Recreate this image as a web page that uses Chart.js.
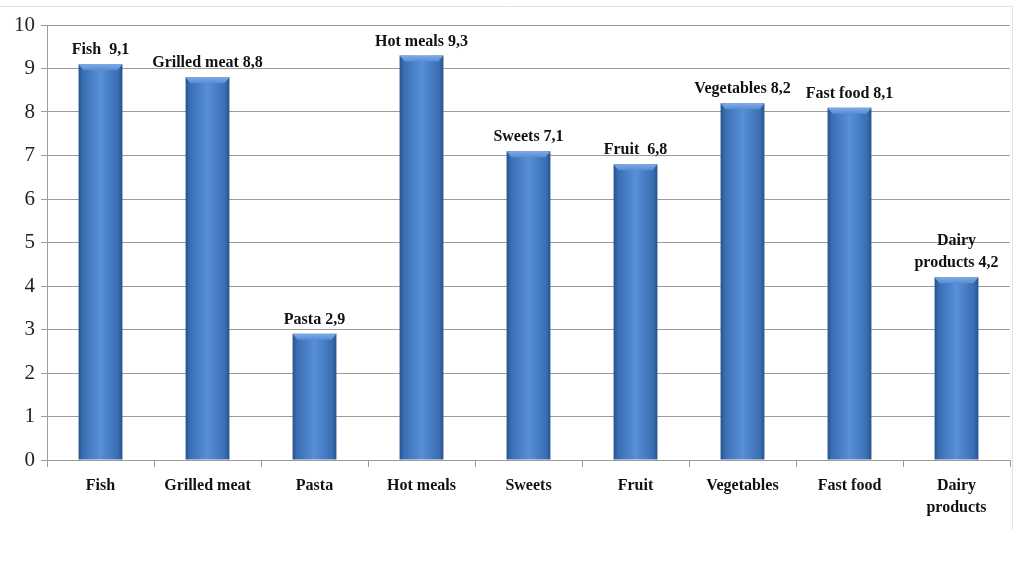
<!DOCTYPE html>
<html>
<head>
<meta charset="utf-8">
<script src="https://cdn.jsdelivr.net/npm/chart.js@4.4.1/dist/chart.umd.min.js"></script>
<style>
  html, body { margin: 0; padding: 0; background: #fff; }
  #wrap { width: 1019px; height: 562px; position: relative; }
</style>
</head>
<body>
<div id="wrap"><canvas id="grafico"></canvas></div>
<script>
// food categories and their scores
const categorias = ['Fish', 'Grilled meat', 'Pasta', 'Hot meals', 'Sweets', 'Fruit', 'Vegetables', 'Fast food', ['Dairy', 'products']];
const nomesRotulo = ['Fish ', 'Grilled meat', 'Pasta', 'Hot meals', 'Sweets', 'Fruit ', 'Vegetables', 'Fast food', 'Dairy\nproducts'];
const valores = [9.1, 8.8, 2.9, 9.3, 7.1, 6.8, 8.2, 8.1, 4.2];
const ticksY = [0, 1, 2, 3, 4, 5, 6, 7, 8, 9, 10];

const fonteSerif = '"Liberation Serif", "Times New Roman", serif';
const larguraBarra = 0.41;

function formataValor(v) {
  return v.toFixed(1).replace('.', ',');
}

// cylinder-like shading across each bar
function corBarra(context) {
  const chart = context.chart;
  const escala = chart.scales.x;
  if (!chart.chartArea || !escala || context.dataIndex === undefined) return '#4a80c8';
  const cx = escala.getPixelForValue(context.dataIndex);
  const w = (escala.width / categorias.length) * larguraBarra;
  const x0 = cx - w / 2;
  const g = chart.ctx.createLinearGradient(x0, 0, x0 + w, 0);
  g.addColorStop(0, '#28548f');
  g.addColorStop(0.1, '#3a6db2');
  g.addColorStop(0.5, '#5790d8');
  g.addColorStop(0.9, '#3a6db2');
  g.addColorStop(1, '#28548f');
  return g;
}

// light bevel on the bar tops
const bisel = {
  id: 'bisel',
  afterDatasetsDraw(chart) {
    const ctx = chart.ctx;
    chart.getDatasetMeta(0).data.forEach(bar => {
      const l = bar.x - bar.width / 2, r = bar.x + bar.width / 2, t = bar.y;
      ctx.save();
      const g = ctx.createLinearGradient(0, t, 0, t + 7);
      g.addColorStop(0, '#7fabe4');
      g.addColorStop(1, '#4f88d0');
      ctx.fillStyle = g;
      ctx.beginPath();
      ctx.moveTo(l, t);
      ctx.lineTo(r, t);
      ctx.lineTo(r - 5, t + 6);
      ctx.lineTo(l + 5, t + 6);
      ctx.closePath();
      ctx.fill();
      ctx.restore();
    });
  }
};

// value labels above the bars
const rotulos = {
  id: 'rotulos',
  afterDatasetsDraw(chart) {
    const ctx = chart.ctx;
    ctx.save();
    ctx.font = 'bold 16px ' + fonteSerif;
    ctx.fillStyle = '#111';
    ctx.textAlign = 'center';
    ctx.textBaseline = 'bottom';
    chart.getDatasetMeta(0).data.forEach((bar, i) => {
      const linhas = (nomesRotulo[i] + ' ' + formataValor(valores[i])).split('\n');
      let y = bar.y - 6;
      for (let k = linhas.length - 1; k >= 0; k--) {
        ctx.fillText(linhas[k], bar.x, y);
        y -= 22;
      }
    });
    ctx.restore();
  }
};

// faint outer frame
const moldura = {
  id: 'moldura',
  beforeDraw(chart) {
    const ctx = chart.ctx;
    ctx.save();
    ctx.strokeStyle = '#e4e4e4';
    ctx.lineWidth = 1;
    ctx.beginPath();
    ctx.moveTo(0, 6.5);
    ctx.lineTo(1012.5, 6.5);
    ctx.lineTo(1012.5, 530);
    ctx.stroke();
    ctx.restore();
  }
};

const ctx = document.getElementById('grafico');

new Chart(ctx, {
  type: 'bar',
  data: {
    labels: categorias,
    datasets: [{
      label: 'Score',
      data: valores,
      backgroundColor: corBarra,
      borderWidth: 0,
      categoryPercentage: 1,
      barPercentage: larguraBarra,
    }]
  },
  options: {
    responsive: true,
    maintainAspectRatio: false,
    animation: false,
    layout: { padding: { top: 25, right: 9, left: 0, bottom: 0 } },
    plugins: {
      legend: { display: false },
      tooltip: { enabled: false }
    },
    scales: {
      y: {
        min: 0,
        max: 10,
        afterFit(scale) { scale.width = 47; },
        afterBuildTicks(scale) { scale.ticks = ticksY.map(v => ({ value: v })); },
        ticks: {
          color: '#222',
          padding: 6,
          font: { family: fonteSerif, size: 21 }
        },
        grid: { color: '#9c9c9c', tickLength: 6, lineWidth: 1 },
        border: { color: '#9c9c9c' }
      },
      x: {
        afterFit(scale) { scale.height = 102; },
        ticks: {
          color: '#111',
          padding: 8,
          maxRotation: 0,
          autoSkip: false,
          font: { family: fonteSerif, size: 16, weight: 'bold', lineHeight: 1.35 }
        },
        grid: { display: true, drawOnChartArea: false, color: '#9c9c9c', tickLength: 7, offset: true },
        border: { color: '#9c9c9c' }
      }
    }
  },
  plugins: [moldura, bisel, rotulos]
});
</script>
</body>
</html>
